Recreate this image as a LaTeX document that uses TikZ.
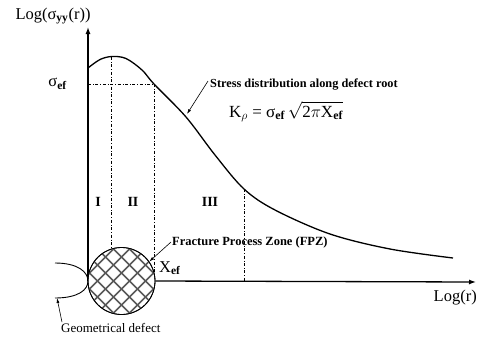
\documentclass[tikz,border=0pt]{standalone}
\usepackage{fontspec}
\usepackage{amsmath}
\setmainfont{Liberation Serif}
\usetikzlibrary{
    arrows.meta,
    positioning
}

\begin{document}
\begin{tikzpicture}[
x=1pt, y=-1pt,
axis/.style={
line width=1.3pt,
-{Latex[length=7pt,width=5pt]}
},
guide/.style={
dashdotted,
line width=0.7pt
},
pointer/.style={
line width=0.6pt,
-{Latex[length=5pt,width=3pt]}
},
hatch/.style={
line width=1.5pt,
gray!70!black
},
label/.style={
inner sep=0pt,
font=\fontsize{16.5}{18}\selectfont
},
note/.style={
inner sep=0pt,
font=\fontsize{12.5}{14}\selectfont\bfseries
},
zone/.style={
inner sep=0pt,
font=\fontsize{14}{16}\selectfont\bfseries
}
]
\useasboundingbox (0,0) rectangle (477,341);

% axes
\coordinate (origin) at (88,281);
\coordinate (ytip) at (88,27);
\coordinate (xtip) at (476,282);

\node[label] (ylabel) at (53,16)
{Log(σ\textsubscript{\bfseries yy}(r))};
\node[label, anchor=east] (xlabel) at (477,298)
{Log(r)};

% guide lines
\coordinate (peak) at (111,57);
\coordinate (sigma) at (88,84);
\coordinate (cross) at (154,84);
\coordinate (third) at (244,189);

\draw[guide] (sigma) -- (cross);
\draw[guide] (peak) -- (111,281);
\draw[guide] (cross) -- (154,281);
\draw[guide] (third) -- (244,282);

\node[label, left=21pt of sigma] (sef)
{σ\textsubscript{\bfseries ef}};

\draw[axis] (origin) -- (ytip);

% stress curve
\draw[line width=1.3pt] plot[smooth, tension=0.55] coordinates
{(88,68) (100,59.5) (112,56.5) (126,58.5) (142,70) (154,84)
(186,117) (215,155) (244,189) (275,210) (330,234) (390,249) (453,258)};

% fracture process zone
\node[circle, draw, fill=white, line width=0.8pt,
minimum size=67pt, inner sep=0pt] (fpz) at (121.5,281) {};
\begin{scope}
\clip (fpz.center) circle (33pt);
\foreach \c in {-88,-72,...,88} {
\draw[hatch] ([shift={(\c-40,-40)}]fpz.center) -- ++(80,80);
\draw[hatch] ([shift={(\c-40,40)}]fpz.center) -- ++(80,-80);
}
\end{scope}
\draw[line width=0.8pt] (fpz.center) circle (33.5pt);

\draw[axis] (fpz.east) -- (xtip);

% geometrical defect
\draw[line width=0.9pt] (55,263) .. controls (78,263) and (88,272) .. (88,281)
.. controls (88,290) and (78,298) .. (55,298);
\coordinate (defect) at (57,298);

% zones
\node[zone] (z1) at (98,202) {I};
\node[zone] (z2) at (133,202) {II};
\node[zone] (z3) at (210,202) {III};

% labels with pointers
\node[note, font=\fontsize{12.3}{14}\selectfont\bfseries, anchor=base west]
(stress) at (210,87) {Stress distribution along defect root};
\coordinate (oncurve) at (187,114);
\draw[pointer] ([xshift=-2pt,yshift=3pt]stress.west) -- (oncurve);

\node[label, font=\fontsize{17}{19}\selectfont, anchor=base west] (kform) at (229,117)
{K$_{\rho}$ = σ\textsubscript{\bfseries ef}\,$\sqrt{\smash[b]{\text{2}\pi\text{X}_{\textbf{ef}}}}$};

\node[note, anchor=west] (fpzlabel) at (172,242)
{Fracture Process Zone (FPZ)};
\draw[pointer] ([xshift=-1pt]fpzlabel.west) -- (fpz.35);

\node[label, anchor=west] (xef) at (159,268)
{X\textsubscript{\bfseries ef}};

\node[note, font=\fontsize{13}{15}\selectfont, anchor=west]
(geo) at (61,328) {Geometrical defect};
\draw[pointer] ([xshift=1pt,yshift=1pt]geo.north west) -- (defect);

\end{tikzpicture}
\end{document}
